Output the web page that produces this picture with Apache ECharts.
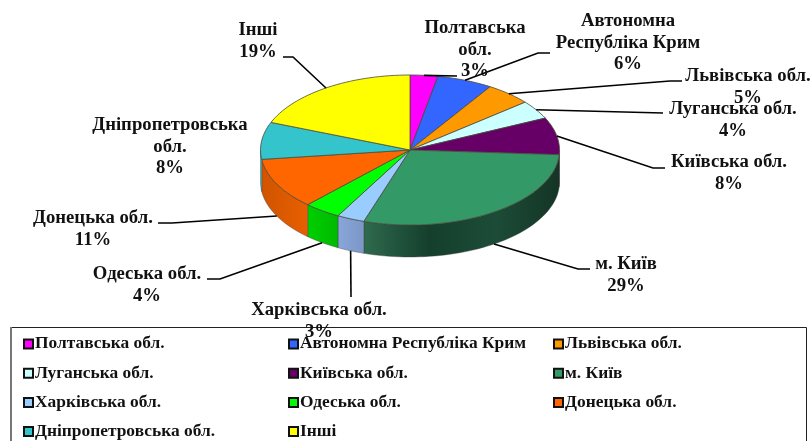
<!DOCTYPE html>
<html>
<head>
<meta charset="utf-8">
<style>html,body{margin:0;padding:0;background:#fff}#main{width:812px;height:441px}</style>
<script src="https://cdn.jsdelivr.net/npm/echarts@6/dist/echarts.min.js"></script>
</head>
<body>
<div id="main"></div>
<script>
var categories = ["Полтавська обл.", "Автономна Республіка Крим", "Львівська обл.", "Луганська обл.", "Київська обл.", "м. Київ", "Харківська обл.", "Одеська обл.", "Донецька обл.", "Дніпропетровська обл.", "Інші"];
var shares = [3, 6, 5, 4, 8, 29, 3, 4, 11, 8, 19];
var labelNames = ["Полтавська\nобл.", "Автономна\nРеспубліка Крим", "Львівська обл.", "Луганська обл.", "Київська обл.", "м. Київ", "Харківська обл.", "Одеська обл.", "Донецька обл.", "Дніпропетровська\nобл.", "Інші"];
var colors = ["#ff00ff", "#3366ff", "#ff9900", "#ccffff", "#660066", "#339966", "#99ccff", "#00ff00", "#ff6600", "#33c4cc", "#ffff00"];
var sideColors = [null, null, null, null, null, ["#2f6a4e", "#143f2c", "#1c4c37", "#143526"], ["#8aa6d8", "#7a97c8"], ["#00d000", "#00b800"], ["#d05400", "#e85f00"], null, null];
// label centre and the bend of each leader line (layout only)
var labelPos = [[475, 50], [628, 43], [748, 87], [733, 120], [729, 173], [626, 275], [319, 321], [147, 285], [93, 229], [170, 147], [258, 41]];
var leaders = [[[457, 76]], [[538, 53], [550, 53]], [[670, 81], [682, 81]], [[663, 113]], [[653, 168], [665, 168]], [[578, 269], [590, 269]], [[351, 297]], [[220, 279], [207, 279]], [[172, 223], [158, 223]], null, [[293, 57], [283, 57]]];
var legendCols = [[0, 3, 6, 9], [1, 4, 7, 10], [2, 5, 8]];
var legendLeft = [23, 288, 553];

var cx = 410, cy = 150, rx = 149.5, ry = 75, depth = 32;
var font = "'Liberation Serif', serif";

function pt(deg, dy) {
	var a = deg * Math.PI / 180;
	return [cx + rx * Math.sin(a), cy - ry * Math.cos(a) + (dy || 0)];
}
function arcPts(a0, a1, dy) {
	var out = [], n = Math.max(2, Math.ceil((a1 - a0) / 2));
	for (var i = 0; i <= n; i++) out.push(pt(a0 + (a1 - a0) * i / n, dy));
	return out;
}

var renderSlice = function(params, api) {
	var i = params.seriesIndex,
		a0 = api.value(0) * 3.6,
		a1 = (api.value(0) + api.value(1)) * 3.6,
		mid = (a0 + a1) / 2,
		kids = [];
	// visible wall: only the part of the arc facing the viewer
	var s0 = Math.max(a0, 90), s1 = Math.min(a1, 270);
	if (s1 > s0) {
		var stops = sideColors[i] || [colors[i], colors[i]];
		var fill = new echarts.graphic.LinearGradient(0, 0, 1, 0, stops.map(function(c, k) {
			return { offset: k / (stops.length - 1), color: c };
		}).reverse());
		kids.push({
			type: "polygon",
			shape: { points: arcPts(s0, s1, 0).concat(arcPts(s0, s1, depth).reverse()) },
			style: { fill: fill, stroke: "#3a3a3a", lineWidth: 0.4 }
		});
	}
	kids.push({
		type: "polygon",
		shape: { points: [[cx, cy]].concat(arcPts(a0, a1, 0)) },
		style: { fill: colors[i], stroke: "#4a4a3a", lineWidth: 0.8 }
	});
	if (leaders[i]) {
		var front = mid > 90 && mid < 270;
		kids.push({
			type: "polyline",
			shape: { points: [pt(mid, front ? depth : 0)].concat(leaders[i]) },
			style: { fill: null, stroke: "#000", lineWidth: 1.6 },
			z2: 5
		});
	}
	kids.push({
		type: "text",
		x: labelPos[i][0],
		y: labelPos[i][1],
		style: {
			text: labelNames[i] + "\n" + api.value(1) + "%",
			align: "center",
			verticalAlign: "middle",
			fill: "#111",
			font: "bold 18.7px " + font,
			lineHeight: 21.5
		},
		z2: 6
	});
	return { type: "group", children: kids };
};

var running = 0;
var series = categories.map(function(name, i) {
	var row = [running, shares[i]];
	running += shares[i];
	return {
		type: "custom",
		name: name,
		coordinateSystem: "none",
		itemStyle: { color: colors[i] },
		silent: true,
		animation: false,
		renderItem: renderSlice,
		data: [row]
	};
});

var legends = legendCols.map(function(col, k) {
	return {
		orient: "vertical",
		left: legendLeft[k],
		top: 334,
		height: 130,
		padding: 0,
		itemGap: 9.2,
		itemWidth: 9,
		itemHeight: 9,
		icon: "rect",
		itemStyle: { borderColor: "#111", borderWidth: 2 },
		selectedMode: false,
		data: col.map(function(i) { return categories[i]; }),
		textStyle: { fontFamily: font, fontWeight: "bold", fontSize: 17.4, lineHeight: 20, color: "#111", padding: [0, 0, 0, -3] }
	};
});

var chart = echarts.init(document.getElementById("main"), null, { renderer: "canvas" });
chart.setOption({
	backgroundColor: "#fff",
	animation: false,
	legend: legends,
	series: series,
	graphic: [{
		type: "rect",
		z: 0,
		silent: true,
		shape: { x: 11.5, y: 327.5, width: 795, height: 120 },
		style: { fill: "#fff", stroke: "#222", lineWidth: 1 }
	}, {
		type: "line",
		z: 0,
		silent: true,
		shape: { x1: 11, y1: 327, x2: 11, y2: 441 },
		style: { stroke: "#777", lineWidth: 2 }
	}]
});
</script>
</body>
</html>
